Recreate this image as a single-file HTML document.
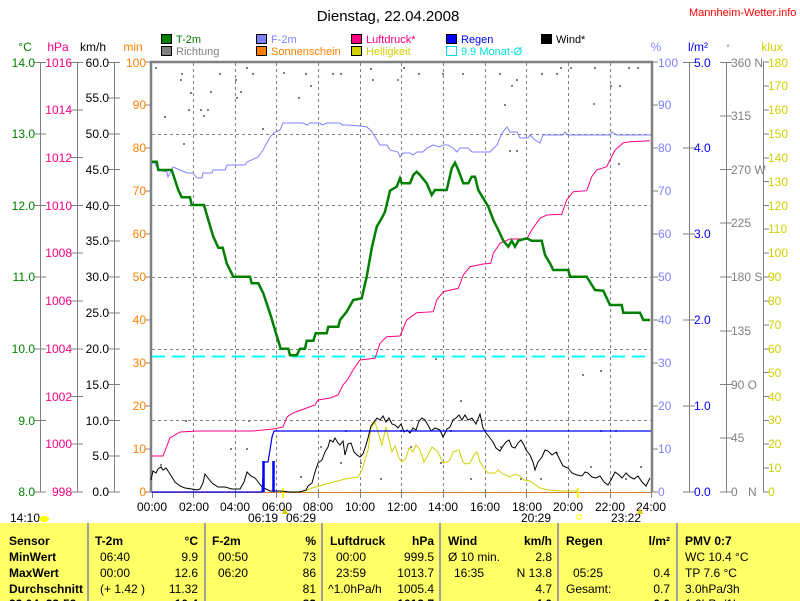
<!DOCTYPE html>
<html><head><meta charset="utf-8"><style>
body{margin:0;background:#fff;}
svg{display:block;font-family:"Liberation Sans",sans-serif;font-size:12px;}
.b{font-weight:bold}
</style></head><body>
<svg width="800" height="601" viewBox="0 0 800 601" xmlns="http://www.w3.org/2000/svg">
<text x="388" y="21" text-anchor="middle" font-size="15">Dienstag, 22.04.2008</text>
<text x="689" y="16" fill="#f00" font-size="11">Mannheim-Wetter.info</text>
<g font-size="11">
<rect x="161.5" y="34.5" width="10" height="9" fill="#008000" stroke="#000"/><text x="176" y="43" fill="#008000">T-2m</text>
<rect x="161.5" y="46.5" width="10" height="9" fill="#808080" stroke="#000"/><text x="176" y="55" fill="#808080">Richtung</text>
<rect x="256.5" y="34.5" width="10" height="9" fill="#8080ff" stroke="#000"/><text x="271" y="43" fill="#8080ff">F-2m</text>
<rect x="256.5" y="46.5" width="10" height="9" fill="#ff8000" stroke="#000"/><text x="271" y="55" fill="#ff8000">Sonnenschein</text>
<rect x="351.5" y="34.5" width="10" height="9" fill="#ff0080" stroke="#000"/><text x="366" y="43" fill="#ff0080">Luftdruck*</text>
<rect x="351.5" y="46.5" width="10" height="9" fill="#d0d000" stroke="#000"/><text x="366" y="55" fill="#d0d000">Helligkeit</text>
<rect x="446.5" y="34.5" width="10" height="9" fill="#0000ff" stroke="#000"/><text x="461" y="43" fill="#0000ff">Regen</text>
<rect x="446.5" y="46.5" width="10" height="9" fill="none" stroke="#00e0e0"/><text x="461" y="55" fill="#00e0e0">9.9 Monat-Ø</text>
<rect x="541.5" y="34.5" width="10" height="9" fill="#000" stroke="#000"/><text x="556" y="43">Wind*</text>
</g>
<text x="25" y="51" fill="#008000" text-anchor="middle">°C</text>
<text x="58" y="51" fill="#ff0080" text-anchor="middle">hPa</text>
<text x="93" y="51" text-anchor="middle">km/h</text>
<text x="133" y="51" fill="#ff8000" text-anchor="middle">min</text>
<text x="656" y="51" fill="#8080ff" text-anchor="middle">%</text>
<text x="698" y="51" fill="#0000ff" text-anchor="middle">l/m²</text>
<text x="728" y="51" fill="#808080" text-anchor="middle" font-size="9">°</text>
<text x="772" y="51" fill="#d0d000" text-anchor="middle">klux</text>
<g stroke="#808080" stroke-width="1">
<line x1="40.5" y1="62" x2="40.5" y2="492"/>
<line x1="77.5" y1="62" x2="77.5" y2="492"/>
<line x1="114.5" y1="62" x2="114.5" y2="492"/>
<line x1="689.5" y1="62" x2="689.5" y2="492"/>
<line x1="726.5" y1="62" x2="726.5" y2="492"/>
<line x1="763.5" y1="62" x2="763.5" y2="492"/>
</g>
<g stroke="#808080"><path d="M34 62.5h12M34 134h12M34 205.5h12M34 277h12M34 349h12M34 420.5h12M34 492h12"/>
<path d="M71 62.5h12M71 110h12M71 157.5h12M71 205.5h12M71 253h12M71 301h12M71 349h12M71 396.5h12M71 444h12M71 492h12"/>
<path d="M108 62.5h12M108 98h12M108 134h12M108 169.5h12M108 205.5h12M108 241h12M108 277h12M108 313h12M108 349h12M108 384.5h12M108 420.5h12M108 456h12M108 492h12"/>
<path d="M145 62h6M145 105h6M145 148h6M145 191h6M145 234h6M145 277h6M145 320h6M145 363h6M145 406h6M145 449h6M145 492h6"/>
<path d="M652 62h6M652 105h6M652 148h6M652 191h6M652 234h6M652 277h6M652 320h6M652 363h6M652 406h6M652 449h6M652 492h6"/>
<path d="M683 62.5h12M683 148h12M683 234h12M683 320h12M683 406h12M683 492h12"/>
<path d="M720 62.5h12M720 116h12M720 169.5h12M720 223h12M720 277h12M720 331h12M720 384.5h12M720 438h12M720 492h12"/>
<path d="M763 62h6M763 86h6M763 110h6M763 134h6M763 158h6M763 181.5h6M763 205.5h6M763 229h6M763 253h6M763 277h6M763 301h6M763 325h6M763 349h6M763 372.5h6M763 396.5h6M763 420.5h6M763 444h6M763 468h6M763 492h6"/></g>
<g fill="#008000" text-anchor="end">
<text x="35" y="67">14.0</text><text x="35" y="138">13.0</text><text x="35" y="210">12.0</text><text x="35" y="281">11.0</text><text x="35" y="353">10.0</text><text x="35" y="425">9.0</text><text x="35" y="496">8.0</text></g>
<g fill="#ff0080" text-anchor="end">
<text x="72" y="67">1016</text><text x="72" y="114">1014</text><text x="72" y="162">1012</text><text x="72" y="210">1010</text><text x="72" y="257">1008</text><text x="72" y="305">1006</text><text x="72" y="353">1004</text><text x="72" y="401">1002</text><text x="72" y="448">1000</text><text x="72" y="496">998</text></g>
<g text-anchor="end">
<text x="109" y="67">60.0</text><text x="109" y="102">55.0</text><text x="109" y="138">50.0</text><text x="109" y="174">45.0</text><text x="109" y="210">40.0</text><text x="109" y="245">35.0</text><text x="109" y="281">30.0</text><text x="109" y="317">25.0</text><text x="109" y="353">20.0</text><text x="109" y="389">15.0</text><text x="109" y="425">10.0</text><text x="109" y="460">5.0</text><text x="109" y="496">0.0</text></g>
<g fill="#ff8000" text-anchor="end">
<text x="146" y="67">100</text><text x="146" y="109">90</text><text x="146" y="152">80</text><text x="146" y="195">70</text><text x="146" y="238">60</text><text x="146" y="281">50</text><text x="146" y="324">40</text><text x="146" y="367">30</text><text x="146" y="410">20</text><text x="146" y="453">10</text><text x="146" y="496">0</text></g>
<g fill="#8080ff">
<text x="658" y="67">100</text><text x="658" y="109">90</text><text x="658" y="152">80</text><text x="658" y="195">70</text><text x="658" y="238">60</text><text x="658" y="281">50</text><text x="658" y="324">40</text><text x="658" y="367">30</text><text x="658" y="410">20</text><text x="658" y="453">10</text><text x="658" y="496">0</text></g>
<g fill="#0000ff">
<text x="694" y="67">5.0</text><text x="694" y="152">4.0</text><text x="694" y="238">3.0</text><text x="694" y="324">2.0</text><text x="694" y="410">1.0</text><text x="694" y="496">0.0</text></g>
<g fill="#808080">
<text x="731" y="67">360 N</text><text x="731" y="120">315</text><text x="731" y="174">270 W</text><text x="731" y="227">225</text><text x="731" y="281">180 S</text><text x="731" y="335">135</text><text x="731" y="389">90 O</text><text x="731" y="442">45</text><text x="731" y="496">0</text><text x="748" y="496">N</text></g>
<g fill="#d0d000">
<text x="768" y="67">180</text><text x="768" y="90">170</text><text x="768" y="114">160</text><text x="768" y="138">150</text><text x="768" y="162">140</text><text x="768" y="186">130</text><text x="768" y="210">120</text><text x="768" y="233">110</text><text x="768" y="257">100</text><text x="768" y="281">90</text><text x="768" y="305">80</text><text x="768" y="329">70</text><text x="768" y="353">60</text><text x="768" y="377">50</text><text x="768" y="401">40</text><text x="768" y="424">30</text><text x="768" y="448">20</text><text x="768" y="472">10</text><text x="768" y="496">0</text></g>
<g stroke="#808080" stroke-dasharray="3,3" stroke-width="1">
<path d="M152 134.5H651M152 205.5H651M152 277.5H651M152 349.5H651M152 420.5H651"/>
<path d="M193.5 63V492M235.5 63V492M276.5 63V492M318.5 63V492M360.5 63V492M401.5 63V492M443.5 63V492M485.5 63V492M526.5 63V492M568.5 63V492M610.5 63V492"/>
</g>
<path d="M151 492V62H652V492" fill="none" stroke="#808080" stroke-width="2.5"/>
<line x1="151" y1="492.5" x2="651" y2="492.5" stroke="#808080"/>
<line x1="152" y1="492.5" x2="651" y2="492.5" stroke="#ff8000" stroke-dasharray="2,1"/>
<g stroke="#808080"><path d="M152.5 492v6M193.5 492v6M235.5 492v6M276.5 492v6M318.5 492v6M360.5 492v6M401.5 492v6M443.5 492v6M485.5 492v6M526.5 492v6M568.5 492v6M610.5 492v6M651.5 492v6"/></g>
<g text-anchor="middle">
<text x="152" y="511">00:00</text><text x="194" y="511">02:00</text><text x="235" y="511">04:00</text><text x="277" y="511">06:00</text><text x="318" y="511">08:00</text><text x="360" y="511">10:00</text><text x="402" y="511">12:00</text><text x="443" y="511">14:00</text><text x="485" y="511">16:00</text><text x="527" y="511">18:00</text><text x="568" y="511">20:00</text><text x="610" y="511">22:00</text><text x="651" y="511">24:00</text>
<text x="263" y="522">06:19</text><text x="301" y="522">06:29</text><text x="536" y="522">20:29</text><text x="626" y="522">23:22</text></g>
<text x="10" y="522">14:10</text>
<ellipse cx="44" cy="519" rx="5" ry="3" fill="#ffff00"/>
<path d="M283 488v10M578 488v10" stroke="#ffff00" stroke-width="2"/>
<path d="M285 508l-3 6h6z" fill="#d0d000"/><path d="M640 508l-3 6h6z" fill="#d0d000"/>
<rect x="577" y="515" width="4" height="4" fill="none" stroke="#ffff00"/>
<g fill="#808080">
<rect x="155" y="67" width="2" height="2"/><rect x="181" y="73" width="2" height="2"/><rect x="180" y="79" width="2" height="2"/><rect x="190" y="92" width="2" height="2"/><rect x="164" y="116" width="2" height="2"/><rect x="188" y="109" width="2" height="2"/><rect x="200" y="109" width="2" height="2"/><rect x="207" y="109" width="2" height="2"/><rect x="203" y="115" width="2" height="2"/><rect x="210" y="91" width="2" height="2"/><rect x="219" y="73" width="2" height="2"/><rect x="246" y="67" width="2" height="2"/><rect x="252" y="73" width="2" height="2"/><rect x="235" y="79" width="2" height="2"/><rect x="240" y="91" width="2" height="2"/><rect x="236" y="97" width="2" height="2"/><rect x="262" y="128" width="2" height="2"/><rect x="283" y="72" width="2" height="2"/><rect x="298" y="97" width="2" height="2"/><rect x="310" y="85" width="2" height="2"/><rect x="305" y="73" width="2" height="2"/><rect x="332" y="73" width="2" height="2"/><rect x="340" y="73" width="2" height="2"/><rect x="370" y="68" width="2" height="2"/><rect x="372" y="79" width="2" height="2"/><rect x="397" y="79" width="2" height="2"/><rect x="403" y="67" width="2" height="2"/><rect x="418" y="73" width="2" height="2"/><rect x="442" y="73" width="2" height="2"/><rect x="462" y="73" width="2" height="2"/><rect x="499" y="73" width="2" height="2"/><rect x="504" y="104" width="2" height="2"/><rect x="511" y="85" width="2" height="2"/><rect x="516" y="79" width="2" height="2"/><rect x="541" y="73" width="2" height="2"/><rect x="556" y="73" width="2" height="2"/><rect x="560" y="67" width="2" height="2"/><rect x="570" y="67" width="2" height="2"/><rect x="594" y="67" width="2" height="2"/><rect x="593" y="103" width="2" height="2"/><rect x="610" y="85" width="2" height="2"/><rect x="619" y="85" width="2" height="2"/><rect x="628" y="67" width="2" height="2"/><rect x="637" y="67" width="2" height="2"/><rect x="509" y="150" width="2" height="2"/><rect x="516" y="150" width="2" height="2"/><rect x="618" y="163" width="2" height="2"/><rect x="183" y="143" width="2" height="2"/><rect x="160" y="464" width="2" height="2"/><rect x="185" y="420" width="2" height="2"/><rect x="230" y="448" width="2" height="2"/><rect x="246" y="448" width="2" height="2"/><rect x="248" y="420" width="2" height="2"/><rect x="320" y="446" width="2" height="2"/><rect x="340" y="462" width="2" height="2"/><rect x="360" y="462" width="2" height="2"/><rect x="380" y="478" width="2" height="2"/><rect x="400" y="430" width="2" height="2"/><rect x="410" y="446" width="2" height="2"/><rect x="440" y="462" width="2" height="2"/><rect x="450" y="430" width="2" height="2"/><rect x="470" y="478" width="2" height="2"/><rect x="500" y="446" width="2" height="2"/><rect x="520" y="478" width="2" height="2"/><rect x="540" y="478" width="2" height="2"/><rect x="556" y="452" width="2" height="2"/><rect x="600" y="430" width="2" height="2"/><rect x="615" y="430" width="2" height="2"/><rect x="625" y="478" width="2" height="2"/><rect x="582" y="374" width="2" height="2"/><rect x="435" y="358" width="2" height="2"/><rect x="600" y="370" width="2" height="2"/><rect x="460" y="400" width="2" height="2"/><rect x="345" y="430" width="2" height="2"/><rect x="300" y="476" width="2" height="2"/><rect x="590" y="466" width="2" height="2"/><rect x="640" y="466" width="2" height="2"/></g>
<line x1="152" y1="356.5" x2="651" y2="356.5" stroke="#00ffff" stroke-width="2" stroke-dasharray="13,7"/>
<polyline fill="none" stroke="#8080ff" stroke-width="1" points="150,163 155,163 158,170 167,172 168,177 173,167 180,170 185,172 187,173 193,173 197,178 202,178 203,173 212,173 213,170 225,170 227,165 245,165 247,162 258,157 263,150 270,137 275,132 280,130 283,123 290,123 303,123 307,125 310,123 320,123 322,125 327,123 340,123 342,125 347,125 360,126 367,127 372,132 377,140 380,145 387,145 390,150 398,152 400,157 403,153 410,153 413,155 417,152 423,152 427,148 433,145 440,147 443,145 448,145 453,148 457,152 460,148 468,148 472,152 490,152 497,145 502,133 507,127 510,132 517,132 520,138 528,138 530,135 535,140 540,143 543,135 563,135 565,132 568,135 610,135 612,132 617,135 651,135"/>
<polyline fill="none" stroke="#ff0080" stroke-width="1" points="152,456 163,456 170,438 180,432 198,431 253,431 273,429 283,427 287,417 293,413 315,405 318,400 330,398 338,395 343,385 348,379 353,370 360,360 375,358.3 380,343.3 386.7,336.7 400,336 406.7,320 416.7,312.7 433.3,311.7 436.7,300 443.3,291.7 458.3,288.3 463.3,275 470,266.7 483.3,264 490.7,263.3 493.3,253.3 500,243.3 510,239 526.7,239 531.7,230 540,218.3 546.7,215 561.7,214.3 566.7,200 573.3,191.7 586.7,190.7 591.7,176.7 596.7,170 606.7,166.7 610,160 615,150 623.3,142.7 630,141.7 650,140.7"/>
<polyline fill="none" stroke="#008000" stroke-width="2.5" points="151.7,161.7 156.7,161.7 158.3,170 171.7,170 178.3,190 181.7,197.3 190,197.3 191.7,205 204,205 208.3,220 213.3,236.7 218.3,247.7 222.7,247.7 226.7,263.3 233.3,276.7 250,276.7 251.7,283.3 258.3,283.3 263.3,293.3 270,313.3 275,330 280.7,348.7 288.3,348.7 290,355.3 296.7,355.3 300,348.7 305,348.7 306.7,340.7 313.3,340.7 315.7,333.3 326.7,333.3 328.3,326.7 338.3,326.7 340,320 346.7,311.7 353.3,300 361.7,298.3 366.7,276.7 371.7,248.3 376.7,226.7 381.7,218.3 385,211.7 390,190.7 396.7,186.7 400,178.3 401.7,183.3 410,183.3 413.3,175 416.7,171.7 420,175 426.7,183.3 431.7,195 435,190 446.7,190 451.7,168.3 455,162.7 458.3,170 463.3,183.3 468.3,183.3 471.7,176.7 475,176.7 478.3,190 483.3,198.3 488.3,206.7 493.3,220 498.3,230 503.3,240.7 508.3,246.7 511.7,240.7 515,246.7 518.3,240.7 526.7,238.3 531.7,240.7 541.7,240.7 545,255 550,263.3 553.3,270 568.3,270 570,276.7 586.7,276.7 595,290 603.3,290.7 610,305 621.7,305 623.3,312.7 640,312.7 643.3,320 650,320"/>
<polyline fill="none" stroke="#d0d000" stroke-width="1" points="297,492 305,491 312,488 330,483 345,479 358,477 362,470 368,450 371,428 375,422 378,432 382,445 386,427 389,440 392,452 395,446 399,458 402,462 406,458 409,448 413,452 416,445 420,450 424,462 428,455 432,447 438,452 443,463 447,462 450,460 453,452 459,450 463,462 466,464 470,463 474,455 477,452 480,462 484,468 488,473 495,473 498,470 503,474 510,477 515,474 520,476 524,480 530,481 540,488 548,490 560,491 578,491"/>
<polyline fill="none" stroke="#000" stroke-width="1" points="151,480 153,471 156,473 158,469 161,467 163,470 166,468 170,474 175,482 180,486 185,488 192,489 197,490 200,489 203,483 205,474 208,478 212,483 218,487 225,487 232,489 240,489 244,482 247,472 251,476 255,478 259,483 262,487 266,489 270,491 280,491 290,492 300,492 306,490 308,486 312,483 315,472 318,463 322,460 325,452 328,447 330,440 333,442 335,438 338,443 340,445 343,441 345,455 348,444 351,443 354,452 357,455 360,457 363,454 366,445 368,438 371,426 374,422 377,418 380,420 383,416 386,422 389,418 392,424 395,425 398,428 401,424 404,432 407,430 410,433 413,428 416,430 419,421 422,418 425,420 428,425 431,431 435,428 440,430 443,437 447,429 450,427 453,420 456,418 459,415 462,420 465,415 468,420 472,418 476,424 480,414 483,428 486,433 490,438 493,442 496,448 500,451 503,446 506,442 509,440 512,447 515,448 518,443 521,440 524,445 526,450 530,455 533,462 535,470 538,462 542,457 545,450 548,451 552,455 556,452 560,460 563,466 568,468 572,473 577,475 582,476 585,472 588,473 592,477 596,478 600,476 604,482 608,485 611,480 615,472 619,475 622,478 626,473 630,477 634,479 638,476 642,482 646,486 650,478"/>
<polyline fill="none" stroke="#0000ff" stroke-width="1.2" points="152,492 262,492 264,462 268,462 270,450 272,437 274,431 651,431"/>
<path d="M263.5 461v31M273.5 461v31" stroke="#0000ff" stroke-width="2.5" fill="none"/>
<rect x="0" y="523" width="800" height="78" fill="#ffff66"/>
<g stroke="#a0a0a0" stroke-width="2"><path d="M88 523v78M205 523v78M322 523v78M440 523v78M558 523v78M677 523v78"/></g>
<g class="b" font-size="12">
<text x="9" y="545">Sensor</text><text x="9" y="561">MinWert</text><text x="9" y="577">MaxWert</text><text x="9" y="593">Durchschnitt</text><text x="9" y="608">22.04. 23:59</text>
<text x="95" y="545">T-2m</text><text x="198" y="545" text-anchor="end">°C</text>
<text x="212" y="545">F-2m</text><text x="316" y="545" text-anchor="end">%</text>
<text x="330" y="545">Luftdruck</text><text x="434" y="545" text-anchor="end">hPa</text>
<text x="448" y="545">Wind</text><text x="552" y="545" text-anchor="end">km/h</text>
<text x="566" y="545">Regen</text><text x="670" y="545" text-anchor="end">l/m²</text>
<text x="685" y="545">PMV 0:7</text>
<text x="198" y="608" text-anchor="end">10.4</text><text x="316" y="608" text-anchor="end">83</text><text x="434" y="608" text-anchor="end">1013.7</text><text x="552" y="608" text-anchor="end">4.0</text><text x="670" y="608" text-anchor="end">0.0</text>
</g>
<g font-size="12">
<text x="100" y="561">06:40</text><text x="198" y="561" text-anchor="end">9.9</text>
<text x="100" y="577">00:00</text><text x="198" y="577" text-anchor="end">12.6</text>
<text x="100" y="593">(+ 1.42 )</text><text x="198" y="593" text-anchor="end">11.32</text>
<text x="218" y="561">00:50</text><text x="316" y="561" text-anchor="end">73</text>
<text x="218" y="577">06:20</text><text x="316" y="577" text-anchor="end">86</text>
<text x="316" y="593" text-anchor="end">81</text>
<text x="336" y="561">00:00</text><text x="434" y="561" text-anchor="end">999.5</text>
<text x="336" y="577">23:59</text><text x="434" y="577" text-anchor="end">1013.7</text>
<text x="328" y="593">^1.0hPa/h</text><text x="434" y="593" text-anchor="end">1005.4</text>
<text x="448" y="561">Ø 10 min.</text><text x="552" y="561" text-anchor="end">2.8</text>
<text x="454" y="577">16:35</text><text x="552" y="577" text-anchor="end">N 13.8</text>
<text x="552" y="593" text-anchor="end">4.7</text>
<text x="573" y="577">05:25</text><text x="670" y="577" text-anchor="end">0.4</text>
<text x="566" y="593">Gesamt:</text><text x="670" y="593" text-anchor="end">0.7</text>
<text x="685" y="561">WC 10.4 °C</text><text x="685" y="577">TP 7.6 °C</text><text x="685" y="593">3.0hPa/3h</text>
<text x="685" y="608">1.0hPa/1h</text>
</g>
</svg>
</body></html>
